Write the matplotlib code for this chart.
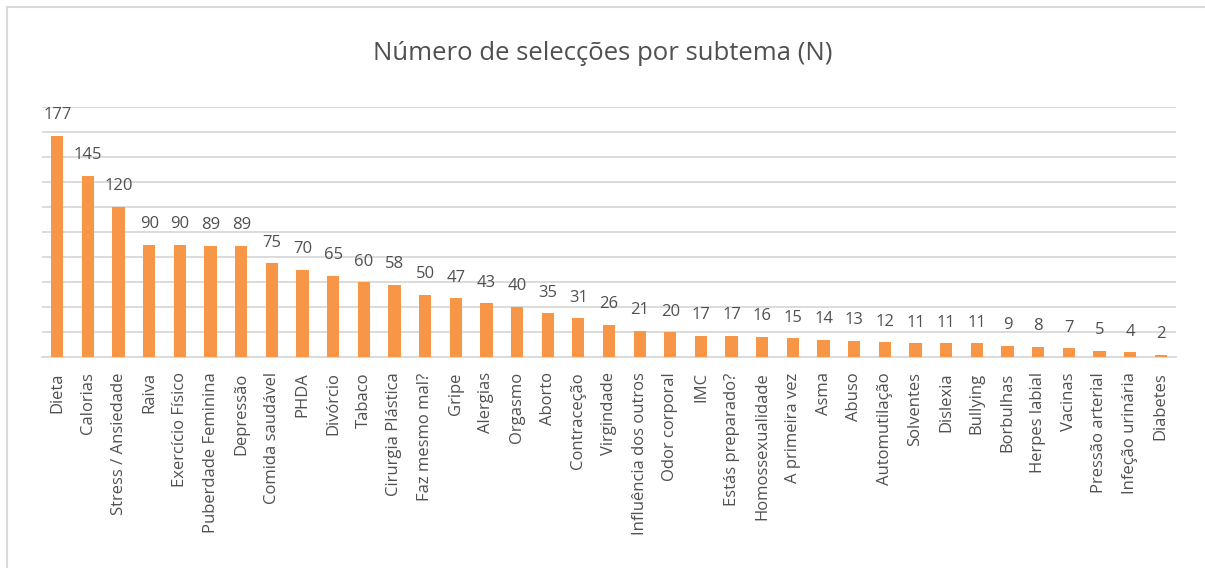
import matplotlib
matplotlib.use("Agg")
import matplotlib.pyplot as plt
from matplotlib.lines import Line2D
import numpy as np

SUBTEMAS = [
    "Dieta", "Calorias", "Stress / Ansiedade", "Raiva", "Exercício Físico",
    "Puberdade Feminina", "Depressão", "Comida saudável", "PHDA", "Divórcio",
    "Tabaco", "Cirurgia Plástica", "Faz mesmo mal?", "Gripe", "Alergias",
    "Orgasmo", "Aborto", "Contraceção", "Virgindade", "Influência dos outros",
    "Odor corporal", "IMC", "Estás preparado?", "Homossexualidade",
    "A primeira vez", "Asma", "Abuso", "Automutilação", "Solventes",
    "Dislexia", "Bullying", "Borbulhas", "Herpes labial", "Vacinas",
    "Pressão arterial", "Infeção urinária", "Diabetes",
]
SELECCOES = [
    177, 145, 120, 90, 90, 89, 89, 75, 70, 65, 60, 58, 50, 47, 43, 40, 35,
    31, 26, 21, 20, 17, 17, 16, 15, 14, 13, 12, 11, 11, 11, 9, 8, 7, 5, 4, 2,
]

W, H = 1205, 568
BAR_COLOR = "#F79646"
TEXT_COLOR = "#505050"
GRID_COLOR = "#D9D9D9"

plt.rcParams["font.family"] = ["Open Sans", "DejaVu Sans"]

fig = plt.figure(figsize=(W / 100, H / 100), dpi=100)
ax = fig.add_axes([42 / W, (H - 357) / H, (1176 - 42) / W, (357 - 107) / H])

x = np.arange(len(SUBTEMAS))
bars = ax.bar(x, SELECCOES, width=0.4, color=BAR_COLOR, zorder=3)

for rect, value in zip(bars, SELECCOES):
    ax.annotate(str(value), (rect.get_x() + rect.get_width() / 2, value),
                xytext=(0, 9), textcoords="offset points", ha="center", va="bottom",
                fontsize=12, color=TEXT_COLOR)

ax.set_xlim(-0.5, len(SUBTEMAS) - 0.5)
ax.set_ylim(0, 200)
ax.set_yticks(np.arange(0, 201, 20))
ax.yaxis.grid(True, color=GRID_COLOR, linewidth=1.3, zorder=0)
ax.tick_params(axis="y", left=False, labelleft=False)
ax.set_xticks(x)
ax.set_xticklabels(SUBTEMAS, rotation=90, fontsize=12, color=TEXT_COLOR)
ax.tick_params(axis="x", length=0, pad=11)
for side in ("top", "right", "left"):
    ax.spines[side].set_visible(False)
ax.spines["bottom"].set_color(GRID_COLOR)
ax.spines["bottom"].set_linewidth(1.3)

fig.text(0.5, (H - 53) / H, "Número de selecções por subtema (N)", ha="center", va="center",
         fontsize=18.5, color=TEXT_COLOR)

# chart frame: left and top edges only
fig.add_artist(Line2D([7 / W, 7 / W], [0, (H - 7) / H], color="#D9D9D9", linewidth=1.5))
fig.add_artist(Line2D([7 / W, 1], [(H - 7) / H, (H - 7) / H], color="#D9D9D9", linewidth=1.5))

fig.savefig("out.png", dpi=100)
